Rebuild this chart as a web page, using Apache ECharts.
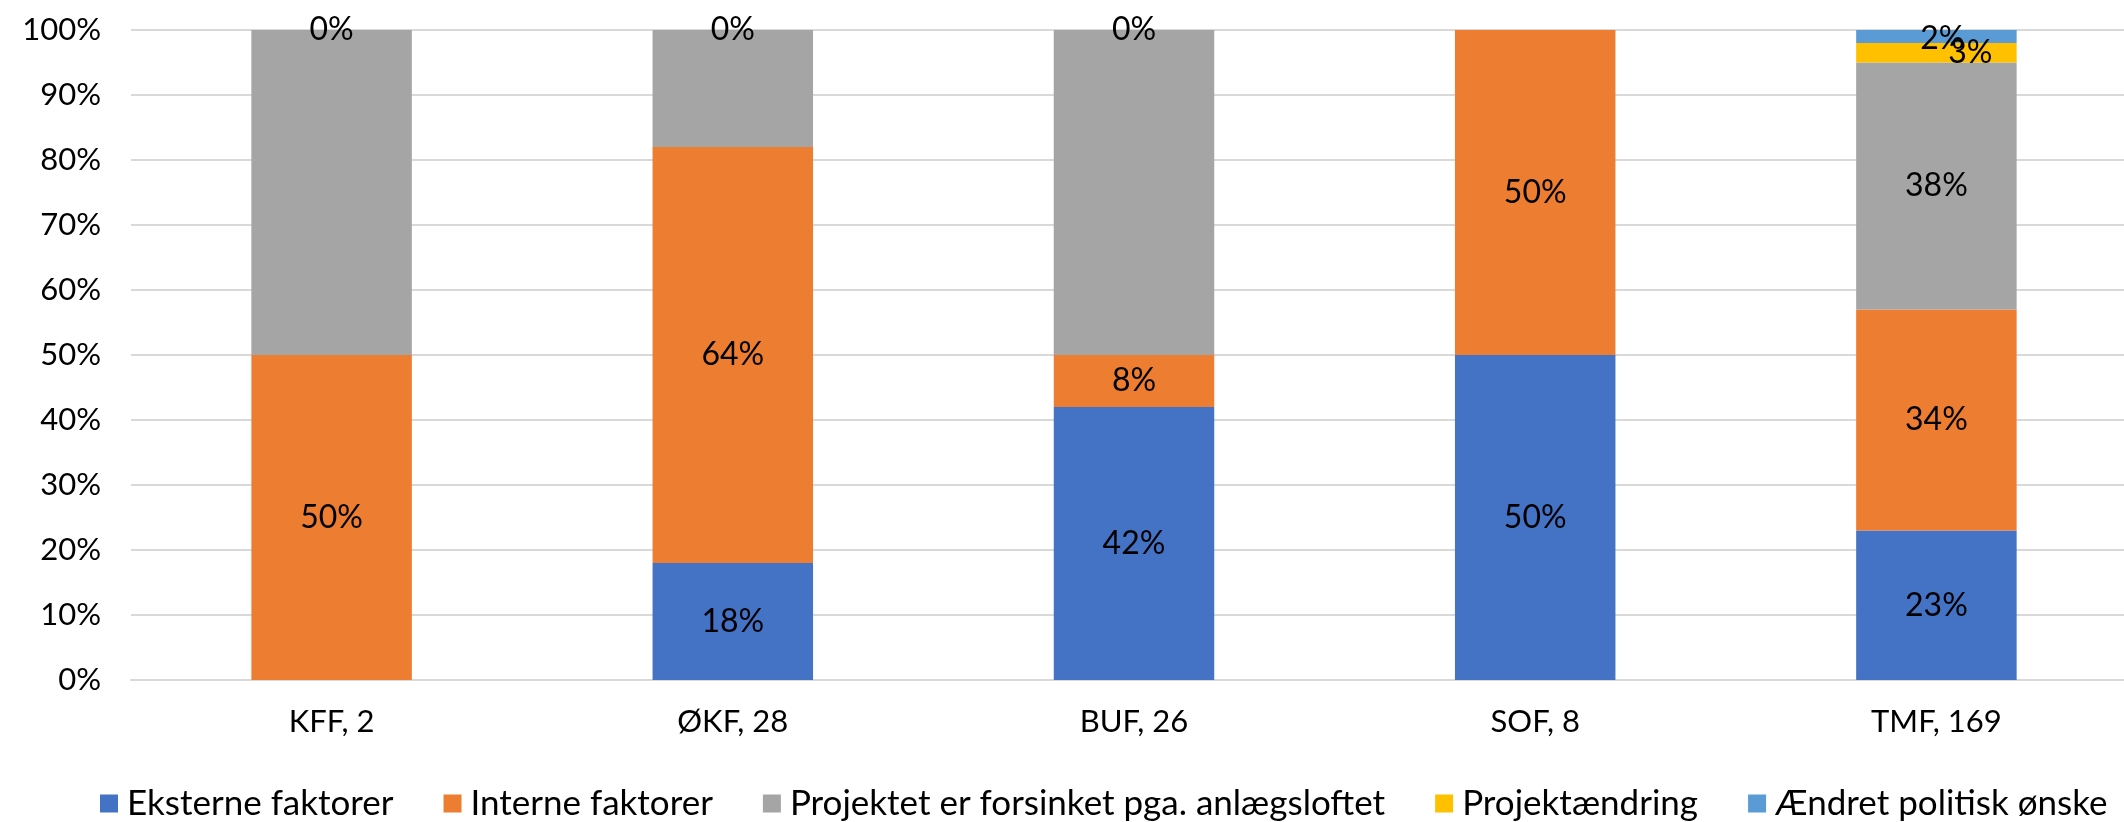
<!DOCTYPE html>
<html>
<head>
<meta charset="utf-8">
<script src="https://cdn.jsdelivr.net/npm/echarts@6/dist/echarts.min.js"></script>
<style>
html,body{margin:0;padding:0;background:#fff;}
#c{width:2124px;height:822px;}
</style>
</head>
<body>
<div id="c"></div>
<script>
const categories = ['KFF, 2', 'ØKF, 28', 'BUF, 26', 'SOF, 8', 'TMF, 169'];
const seriesNames = ['Eksterne faktorer', 'Interne faktorer', 'Projektet er forsinket pga. anlægsloftet', 'Projektændring', 'Ændret politisk ønske'];
const eksterne = [null, 18, 42, 50, 23];
const interne = [50, 64, 8, 50, 34];
const forsinket = [50, 18, 50, null, 38];
const projektaendring = [0, 0, 0, null, 3];
const politisk = [null, null, null, null, 2];
const yTicks = [0, 10, 20, 30, 40, 50, 60, 70, 80, 90, 100];

const colors = ['#4472C4', '#ED7D31', '#A5A5A5', '#FFC000', '#5B9BD5'];
const FONT = 'Lato';
const labelBase = {show: true, position: 'inside', color: '#000', fontSize: 32, fontFamily: FONT,
  formatter: p => p.value + '%'};

function mk(name, arr, color, labelFn) {
  return {
    name: name, type: 'bar', stack: 'total', barWidth: '40%',
    itemStyle: {color: color},
    label: labelBase,
    data: arr.map((v, i) => labelFn ? labelFn(v, i) : v)
  };
}

const chart = echarts.init(document.getElementById('c'), null, {renderer: 'canvas'});
chart.setOption({
  animation: false,
  color: colors,
  grid: {left: 131, width: 2006, top: 30, bottom: 142, containLabel: false, outerBoundsMode: 'none'},
  xAxis: {
    type: 'category', data: categories,
    axisLine: {show: true, lineStyle: {color: '#d9d9d9', width: 2}},
    axisTick: {show: false},
    axisLabel: {color: '#000', fontSize: 31, fontFamily: FONT, margin: 26}
  },
  yAxis: {
    type: 'value', min: yTicks[0], max: yTicks[yTicks.length - 1], interval: 10,
    axisLine: {show: false}, axisTick: {show: false},
    splitLine: {lineStyle: {color: '#d9d9d9', width: 2}},
    axisLabel: {color: '#000', fontSize: 31, fontFamily: FONT, margin: 30, formatter: v => v + '%'}
  },
  legend: {
    bottom: -4, left: 95,
    itemWidth: 18, itemHeight: 18, itemGap: 50,
    icon: 'rect',
    textStyle: {color: '#000', fontSize: 35, fontFamily: FONT, padding: [0, 0, 0, 4]},
    data: seriesNames
  },
  series: [
    mk(seriesNames[0], eksterne, colors[0]),
    mk(seriesNames[1], interne, colors[1]),
    mk(seriesNames[2], forsinket, colors[2], (v, i) => i === 4 ? v : {value: v, label: {show: false}}),
    mk(seriesNames[3], projektaendring, colors[3], (v, i) => i === 4 ? {value: v, label: {offset: [34, 0]}} : v),
    mk(seriesNames[4], politisk, colors[4], (v, i) => i === 4 ? {value: v, label: {offset: [6, 2]}} : v)
  ]
});
</script>
</body>
</html>
